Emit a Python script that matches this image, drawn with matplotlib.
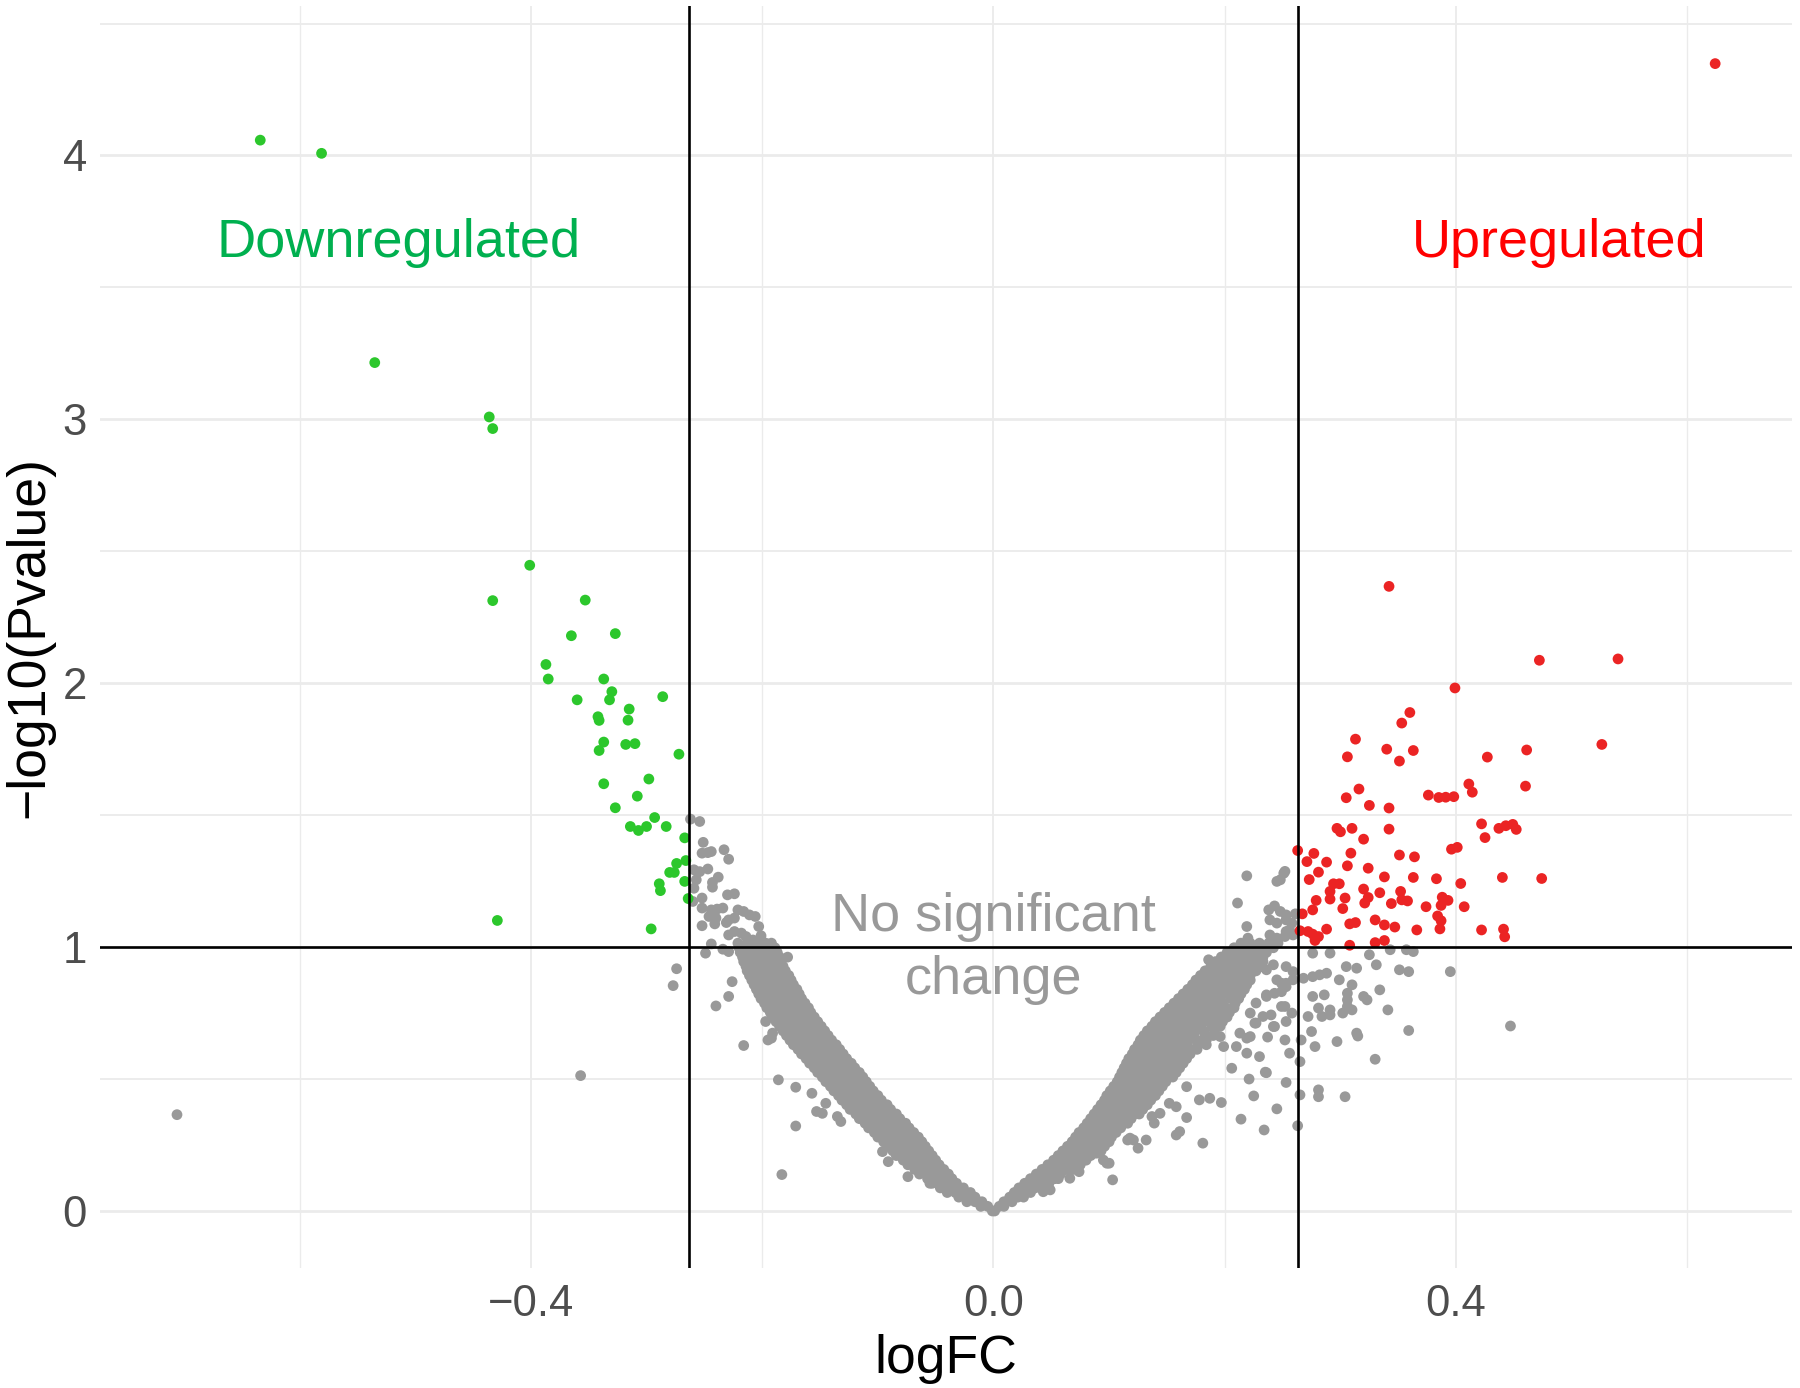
import numpy as np
import matplotlib
matplotlib.use('Agg')
import matplotlib.pyplot as plt

plt.rcParams['font.family'] = ['Liberation Sans', 'DejaVu Sans']

fc_cut = 0.263
p_cut = 1.0

# significant down (green)
down_x = [-0.634, -0.581, -0.535, -0.436, -0.433, -0.401, -0.433, -0.353, -0.365, -0.327,
          -0.387, -0.385, -0.337, -0.330, -0.332, -0.360, -0.286, -0.315, -0.342, -0.341,
          -0.316, -0.337, -0.341, -0.318, -0.310, -0.272, -0.337, -0.298, -0.308, -0.327,
          -0.293, -0.314, -0.307, -0.300, -0.283, -0.267, -0.266, -0.274, -0.280, -0.276,
          -0.267, -0.289, -0.288, -0.264, -0.429, -0.296]
down_y = [4.058, 4.008, 3.215, 3.009, 2.965, 2.447, 2.313, 2.315, 2.180, 2.188,
          2.071, 2.016, 2.016, 1.968, 1.937, 1.937, 1.949, 1.902, 1.873, 1.859,
          1.860, 1.777, 1.745, 1.768, 1.771, 1.731, 1.619, 1.637, 1.572, 1.528,
          1.491, 1.457, 1.442, 1.457, 1.457, 1.414, 1.328, 1.317, 1.283, 1.283,
          1.249, 1.240, 1.214, 1.184, 1.101, 1.069]

# significant up (red)
up_x = [0.624, 0.342, 0.472, 0.540, 0.399, 0.360, 0.353, 0.313, 0.340, 0.363,
        0.306, 0.351, 0.427, 0.461, 0.526, 0.460, 0.411, 0.414, 0.316, 0.305,
        0.325, 0.342, 0.376, 0.385, 0.391, 0.398, 0.297, 0.300, 0.310, 0.320,
        0.342, 0.422, 0.425, 0.437, 0.443, 0.449, 0.452, 0.396, 0.401, 0.263,
        0.277, 0.271, 0.288, 0.309, 0.306, 0.324, 0.351, 0.364, 0.281, 0.273,
        0.338, 0.363, 0.383, 0.404, 0.440, 0.474, 0.294, 0.299, 0.291, 0.320,
        0.334, 0.352, 0.279, 0.291, 0.304, 0.324, 0.321, 0.344, 0.353, 0.358,
        0.388, 0.393, 0.387, 0.374, 0.407, 0.276, 0.302, 0.267, 0.384, 0.387,
        0.308, 0.313, 0.330, 0.338, 0.347, 0.288, 0.265, 0.272, 0.276, 0.281,
        0.278, 0.366, 0.386, 0.422, 0.441, 0.442, 0.308, 0.330, 0.338]
up_y = [4.348, 2.367, 2.087, 2.092, 1.982, 1.889, 1.849, 1.788, 1.750, 1.745,
        1.721, 1.705, 1.720, 1.747, 1.768, 1.610, 1.618, 1.587, 1.599, 1.566,
        1.537, 1.527, 1.576, 1.567, 1.568, 1.570, 1.450, 1.437, 1.450, 1.409,
        1.447, 1.467, 1.415, 1.450, 1.460, 1.465, 1.446, 1.371, 1.378, 1.366,
        1.355, 1.324, 1.322, 1.356, 1.308, 1.299, 1.349, 1.342, 1.284, 1.256,
        1.266, 1.264, 1.259, 1.241, 1.264, 1.260, 1.240, 1.240, 1.211, 1.220,
        1.206, 1.211, 1.177, 1.182, 1.186, 1.188, 1.167, 1.165, 1.179, 1.175,
        1.189, 1.177, 1.158, 1.153, 1.153, 1.141, 1.146, 1.126, 1.118, 1.100,
        1.088, 1.093, 1.103, 1.084, 1.076, 1.068, 1.062, 1.059, 1.049, 1.040,
        1.025, 1.065, 1.069, 1.065, 1.068, 1.039, 1.007, 1.017, 1.025]

# not significant, scattered ones
ns_x = [-0.706, -0.357, -0.274, -0.277, -0.183, -0.096,
        -0.262, -0.254, -0.251, -0.252, -0.247, -0.244, -0.233, -0.229,
        -0.259, -0.254, -0.247, -0.238, -0.243, -0.243, -0.257, -0.259,
        -0.230, -0.224, -0.252, -0.260, -0.252, -0.244, -0.239, -0.234,
        -0.221, -0.216, -0.211, -0.206, -0.246, -0.240, -0.229, -0.224,
        -0.252, -0.241, -0.231, -0.203, -0.201, -0.229, -0.224, -0.218,
        -0.214, -0.208, -0.204, -0.200, -0.244, -0.249, -0.234, -0.229,
        -0.226, -0.229, -0.240, -0.216, -0.197, -0.192, -0.178, -0.195, -0.191,
        -0.186, -0.171, -0.171, -0.153, -0.148, -0.145, -0.135, -0.132, -0.157, -0.091, -0.074, -0.055,
        0.219, 0.245, 0.252, 0.211, 0.238, 0.243, 0.248, 0.261, 0.219,
        0.239, 0.245, 0.253, 0.256, 0.220, 0.239, 0.245, 0.252, 0.259,
        0.253, 0.258, 0.253, 0.251, 0.248,
        0.276, 0.291, 0.325, 0.343, 0.357, 0.363, 0.305, 0.314, 0.331, 0.351, 0.359, 0.395,
        0.276, 0.282, 0.268, 0.288, 0.299, 0.310, 0.276, 0.286, 0.306, 0.306, 0.306, 0.320, 0.323, 0.334,
        0.341, 0.272, 0.281, 0.291, 0.302, 0.310, 0.284, 0.291, 0.275, 0.266, 0.278, 0.297, 0.314, 0.315,
        0.359, 0.330, 0.265, 0.265, 0.281, 0.281, 0.304, 0.263, 0.447,
        0.256, 0.253, 0.245, 0.234, 0.214, 0.225, 0.221, 0.235, 0.252, 0.237, 0.242, 0.197, 0.187,
        0.167, 0.181, 0.161, 0.158, 0.132, 0.125, 0.116, 0.103, 0.100, 0.095, 0.083, 0.089, 0.066, 0.074, 0.043, 0.049,
        0.219, 0.230, 0.210, 0.206, 0.227, 0.227, 0.240, 0.252, 0.253, 0.258, 0.236, 0.243, 0.249,
        0.222, 0.222, 0.232, 0.242, 0.253, 0.259, 0.245, 0.253, 0.259,
        0.186, 0.209, 0.219, 0.230, 0.236, 0.249, 0.236, 0.253, 0.249, 0.233, 0.243, 0.226, 0.213, 0.219, 0.199, 0.196, 0.236,
        0.178, 0.152, 0.158, 0.167, 0.144, 0.137, 0.139, 0.118, 0.121, 0.098]
ns_y = [0.365, 0.513, 0.918, 0.854, 0.138, 0.225,
        1.485, 1.476, 1.397, 1.356, 1.358, 1.362, 1.369, 1.333,
        1.293, 1.286, 1.296, 1.265, 1.245, 1.227, 1.255, 1.223,
        1.198, 1.202, 1.186, 1.173, 1.148, 1.141, 1.144, 1.148,
        1.141, 1.135, 1.122, 1.116, 1.116, 1.110, 1.103, 1.110,
        1.081, 1.088, 1.093, 1.078, 1.043, 1.046, 1.059, 1.053,
        1.040, 1.027, 1.015, 1.021, 1.012, 0.977, 0.992, 0.983,
        0.869, 0.813, 0.777, 0.627, 0.718, 0.655, 0.962, 0.648, 0.674,
        0.497, 0.469, 0.322, 0.377, 0.370, 0.408, 0.358, 0.339, 0.446, 0.187, 0.130, 0.105,
        1.270, 1.249, 1.287, 1.167, 1.141, 1.156, 1.135, 1.126, 1.078,
        1.103, 1.091, 1.103, 1.065, 1.034, 1.046, 1.034, 1.040, 1.046,
        1.122, 1.091, 1.059, 1.280, 1.255,
        0.977, 0.977, 0.971, 0.990, 0.990, 0.983, 0.926, 0.920, 0.933, 0.914, 0.907, 0.907,
        0.888, 0.895, 0.882, 0.901, 0.876, 0.857, 0.813, 0.819, 0.825, 0.800, 0.775, 0.813, 0.800, 0.838,
        0.762, 0.737, 0.769, 0.762, 0.750, 0.762, 0.737, 0.743, 0.680, 0.648, 0.623, 0.642, 0.674, 0.663,
        0.684, 0.575, 0.566, 0.440, 0.459, 0.433, 0.433, 0.323, 0.701,
        0.598, 0.487, 0.387, 0.307, 0.348, 0.436, 0.500, 0.526, 0.648, 0.659, 0.699, 0.411, 0.427,
        0.354, 0.257, 0.301, 0.288, 0.269, 0.238, 0.269, 0.118, 0.181, 0.193, 0.212, 0.219, 0.124, 0.149, 0.073, 0.080,
        0.598, 0.585, 0.623, 0.541, 0.788, 0.712, 0.743, 0.775, 0.718, 0.750, 0.819, 0.825, 0.831,
        0.661, 0.750, 0.926, 0.933, 0.926, 0.907, 0.876, 0.863, 0.876,
        0.952, 0.952, 0.907, 0.945, 0.914, 0.863, 0.813, 0.850, 0.775, 0.737, 0.699, 0.712, 0.674, 0.655, 0.623, 0.661, 0.524,
        0.421, 0.408, 0.395, 0.471, 0.370, 0.358, 0.333, 0.276, 0.269, 0.181]

# dense V of non-significant genes, read row by row
band_rows_y = [0.000, 0.035, 0.070, 0.105, 0.140, 0.175, 0.210, 0.245, 0.280, 0.315,
               0.350, 0.385, 0.420, 0.455, 0.490, 0.525, 0.560, 0.595, 0.630, 0.665,
               0.700, 0.735, 0.770, 0.805, 0.840, 0.875, 0.910, 0.945, 0.980, 1.015]
mid_rows_y = [0.0175, 0.0525, 0.0875, 0.1225, 0.1575, 0.1925, 0.2275, 0.2625, 0.2975, 0.3325,
              0.3675, 0.4025, 0.4375, 0.4725, 0.5075, 0.5425, 0.5775, 0.6125, 0.6475, 0.6825,
              0.7175, 0.7525, 0.7875, 0.8225, 0.8575, 0.8925, 0.9275, 0.9625, 0.9975]
left_rows_x = [
    [-0.001],
    [-0.023, -0.016, -0.010],
    [-0.040, -0.033, -0.026, -0.020],
    [-0.053, -0.046, -0.039, -0.032],
    [-0.064, -0.057, -0.050, -0.043, -0.039],
    [-0.074, -0.067, -0.060, -0.053, -0.047],
    [-0.084, -0.077, -0.070, -0.063, -0.056, -0.053],
    [-0.092, -0.085, -0.078, -0.071, -0.064, -0.059],
    [-0.100, -0.093, -0.086, -0.079, -0.072, -0.065],
    [-0.108, -0.101, -0.094, -0.087, -0.080, -0.073],
    [-0.116, -0.109, -0.102, -0.095, -0.088, -0.081],
    [-0.124, -0.117, -0.110, -0.103, -0.096, -0.089],
    [-0.131, -0.124, -0.117, -0.110, -0.103, -0.097],
    [-0.138, -0.131, -0.124, -0.117, -0.110, -0.104],
    [-0.145, -0.138, -0.131, -0.124, -0.117, -0.110],
    [-0.152, -0.145, -0.138, -0.131, -0.124, -0.116],
    [-0.159, -0.152, -0.145, -0.138, -0.131, -0.123],
    [-0.166, -0.159, -0.152, -0.145, -0.138, -0.130],
    [-0.173, -0.166, -0.159, -0.152, -0.145, -0.136],
    [-0.179, -0.172, -0.165, -0.158, -0.151, -0.143],
    [-0.185, -0.178, -0.171, -0.164, -0.157, -0.149],
    [-0.191, -0.184, -0.177, -0.170, -0.163, -0.155],
    [-0.196, -0.189, -0.182, -0.175, -0.168, -0.160],
    [-0.201, -0.194, -0.187, -0.180, -0.173, -0.166],
    [-0.205, -0.198, -0.191, -0.184, -0.177, -0.170],
    [-0.209, -0.202, -0.195, -0.188, -0.181, -0.175],
    [-0.213, -0.206, -0.199, -0.192, -0.185, -0.180],
    [-0.216, -0.209, -0.202, -0.195, -0.188, -0.184],
    [-0.219, -0.212, -0.205, -0.198, -0.191, -0.187],
    [-0.221, -0.213, -0.205, -0.197, -0.192],
]
left_mid_x = [
    [-0.011, -0.005],
    [-0.030, -0.023, -0.016],
    [-0.046, -0.039, -0.032, -0.026],
    [-0.057, -0.050, -0.043, -0.036],
    [-0.068, -0.061, -0.054, -0.047, -0.043],
    [-0.078, -0.071, -0.064, -0.057, -0.050],
    [-0.087, -0.080, -0.073, -0.066, -0.059, -0.056],
    [-0.095, -0.088, -0.081, -0.074, -0.067, -0.062],
    [-0.103, -0.096, -0.089, -0.082, -0.075, -0.069],
    [-0.111, -0.104, -0.097, -0.090, -0.083, -0.076],
    [-0.119, -0.112, -0.105, -0.098, -0.091, -0.084],
    [-0.127, -0.120, -0.113, -0.106, -0.099, -0.092],
    [-0.134, -0.127, -0.120, -0.113, -0.106, -0.100],
    [-0.141, -0.134, -0.127, -0.120, -0.113, -0.107],
    [-0.148, -0.141, -0.134, -0.127, -0.120, -0.113],
    [-0.155, -0.148, -0.141, -0.134, -0.127, -0.120],
    [-0.162, -0.155, -0.148, -0.141, -0.134, -0.127],
    [-0.169, -0.162, -0.155, -0.148, -0.141, -0.133],
    [-0.176, -0.169, -0.162, -0.155, -0.148, -0.140],
    [-0.182, -0.175, -0.168, -0.161, -0.154, -0.146],
    [-0.188, -0.181, -0.174, -0.167, -0.160, -0.152],
    [-0.193, -0.186, -0.179, -0.172, -0.165, -0.158],
    [-0.198, -0.191, -0.184, -0.177, -0.170, -0.163],
    [-0.203, -0.196, -0.189, -0.182, -0.175, -0.168],
    [-0.207, -0.200, -0.193, -0.186, -0.179, -0.173],
    [-0.211, -0.204, -0.197, -0.190, -0.183, -0.177],
    [-0.214, -0.207, -0.200, -0.193, -0.186, -0.182],
    [-0.217, -0.210, -0.203, -0.196, -0.189, -0.185],
    [-0.220, -0.213, -0.206, -0.199, -0.192, -0.189],
]
right_rows_x = [
    [0.001],
    [0.009, 0.016],
    [0.018, 0.025, 0.032],
    [0.027, 0.034, 0.041, 0.048],
    [0.037, 0.044, 0.051, 0.058],
    [0.047, 0.054, 0.061, 0.068, 0.075],
    [0.056, 0.063, 0.070, 0.077, 0.084],
    [0.064, 0.071, 0.078, 0.085, 0.092, 0.096],
    [0.071, 0.078, 0.085, 0.092, 0.099, 0.102],
    [0.078, 0.085, 0.092, 0.099, 0.106, 0.110],
    [0.084, 0.091, 0.098, 0.105, 0.112, 0.119],
    [0.090, 0.097, 0.104, 0.111, 0.118, 0.125, 0.129],
    [0.096, 0.103, 0.110, 0.117, 0.124, 0.131, 0.136],
    [0.101, 0.108, 0.115, 0.122, 0.129, 0.136, 0.143],
    [0.107, 0.114, 0.121, 0.128, 0.135, 0.142, 0.149],
    [0.111, 0.118, 0.125, 0.132, 0.139, 0.146, 0.153, 0.158],
    [0.115, 0.122, 0.129, 0.136, 0.143, 0.150, 0.157, 0.164],
    [0.120, 0.127, 0.134, 0.141, 0.148, 0.155, 0.162, 0.170],
    [0.125, 0.132, 0.139, 0.146, 0.153, 0.160, 0.167, 0.177, 0.184],
    [0.130, 0.137, 0.144, 0.151, 0.158, 0.165, 0.172, 0.183, 0.190],
    [0.137, 0.144, 0.151, 0.158, 0.165, 0.172, 0.179, 0.189, 0.196],
    [0.144, 0.151, 0.158, 0.165, 0.172, 0.179, 0.186, 0.195, 0.202],
    [0.152, 0.159, 0.166, 0.173, 0.180, 0.187, 0.194, 0.201, 0.208],
    [0.160, 0.167, 0.174, 0.181, 0.188, 0.195, 0.205, 0.212],
    [0.168, 0.175, 0.182, 0.189, 0.196, 0.203, 0.210, 0.217],
    [0.175, 0.182, 0.189, 0.196, 0.203, 0.210, 0.217, 0.222],
    [0.183, 0.190, 0.197, 0.204, 0.211, 0.218, 0.222, 0.227],
    [0.192, 0.199, 0.206, 0.213, 0.220, 0.228, 0.233],
    [0.202, 0.209, 0.216, 0.223, 0.230, 0.236],
    [0.214, 0.222, 0.230, 0.238, 0.246],
]
right_mid_x = [
    [0.005, 0.009],
    [0.014, 0.021, 0.026],
    [0.022, 0.029, 0.036, 0.042],
    [0.032, 0.039, 0.046, 0.053, 0.056],
    [0.042, 0.049, 0.056, 0.063, 0.069],
    [0.052, 0.059, 0.066, 0.073, 0.080],
    [0.060, 0.067, 0.074, 0.081, 0.088, 0.093],
    [0.068, 0.075, 0.082, 0.089, 0.096, 0.100],
    [0.074, 0.081, 0.088, 0.095, 0.102, 0.106],
    [0.081, 0.088, 0.095, 0.102, 0.109, 0.116],
    [0.087, 0.094, 0.101, 0.108, 0.115, 0.122, 0.126],
    [0.093, 0.100, 0.107, 0.114, 0.121, 0.128, 0.133],
    [0.098, 0.105, 0.112, 0.119, 0.126, 0.133, 0.140],
    [0.104, 0.111, 0.118, 0.125, 0.132, 0.139, 0.146],
    [0.109, 0.116, 0.123, 0.130, 0.137, 0.144, 0.151, 0.155],
    [0.113, 0.120, 0.127, 0.134, 0.141, 0.148, 0.155, 0.161],
    [0.117, 0.124, 0.131, 0.138, 0.145, 0.152, 0.159, 0.167],
    [0.122, 0.129, 0.136, 0.143, 0.150, 0.157, 0.164, 0.171, 0.176],
    [0.127, 0.134, 0.141, 0.148, 0.155, 0.162, 0.169, 0.176, 0.184],
    [0.133, 0.140, 0.147, 0.154, 0.161, 0.168, 0.175, 0.182, 0.191],
    [0.140, 0.147, 0.154, 0.161, 0.168, 0.175, 0.182, 0.189, 0.198],
    [0.148, 0.155, 0.162, 0.169, 0.176, 0.183, 0.190, 0.197, 0.204],
    [0.156, 0.163, 0.170, 0.177, 0.184, 0.191, 0.198, 0.209],
    [0.164, 0.171, 0.178, 0.185, 0.192, 0.199, 0.206, 0.214],
    [0.172, 0.179, 0.186, 0.193, 0.200, 0.207, 0.214, 0.219],
    [0.179, 0.186, 0.193, 0.200, 0.207, 0.214, 0.222],
    [0.188, 0.195, 0.202, 0.209, 0.216, 0.223, 0.229],
    [0.197, 0.204, 0.211, 0.218, 0.225, 0.233],
    [0.208, 0.215, 0.222, 0.229, 0.236, 0.242],
]

band_x, band_y = [], []
for rows_y, rows_x in ((band_rows_y, left_rows_x), (mid_rows_y, left_mid_x),
                       (band_rows_y, right_rows_x), (mid_rows_y, right_mid_x)):
    for yy, xs in zip(rows_y, rows_x):
        band_x += xs
        band_y += [yy] * len(xs)

gray_x = np.array(band_x + ns_x)
gray_y = np.array(band_y + ns_y)

fig = plt.figure(figsize=(18, 13.88), dpi=100)
ax = fig.add_axes([0.0556, 0.0862, 0.9400, 0.9093])

pt_size = 60
ax.scatter(gray_x, gray_y, s=pt_size, c='#999999', edgecolors='none', zorder=2)
ax.scatter(down_x, down_y, s=pt_size, c='#2CC72C', edgecolors='none', zorder=3)
ax.scatter(up_x, up_y, s=pt_size, c='#EB2424', edgecolors='none', zorder=3)

ax.axvline(-fc_cut, color='black', lw=1.9, zorder=4)
ax.axvline(fc_cut, color='black', lw=1.9, zorder=4)
ax.axhline(p_cut, color='black', lw=1.9, zorder=4)

all_x = np.concatenate([gray_x, down_x, up_x])
all_y = np.concatenate([gray_y, down_y, up_y])
xr = all_x.max() - all_x.min()
yr = all_y.max() - all_y.min()
ax.set_xlim(all_x.min() - 0.05 * xr, all_x.max() + 0.05 * xr)
ax.set_ylim(all_y.min() - 0.05 * yr, all_y.max() + 0.05 * yr)

ax.set_xticks([-0.4, 0.0, 0.4])
ax.set_xticklabels(['\u22120.4', '0.0', '0.4'])
ax.set_xticks([-0.6, -0.2, 0.2, 0.6], minor=True)
ax.set_yticks([0, 1, 2, 3, 4])
ax.set_yticklabels(['0', '1', '2', '3', '4'])
ax.set_yticks([0.5, 1.5, 2.5, 3.5, 4.5], minor=True)

ax.set_axisbelow(True)
ax.grid(which='major', axis='y', color='#EBEBEB', lw=2.0)
ax.grid(which='minor', axis='y', color='#EBEBEB', lw=1.3)
ax.grid(which='major', axis='x', color='#EBEBEB', lw=1.3)
ax.grid(which='minor', axis='x', color='#EBEBEB', lw=1.0)
for sp in ax.spines.values():
    sp.set_visible(False)
ax.tick_params(which='both', length=0, labelsize=31.5, labelcolor='#4D4D4D')
ax.tick_params(axis='y', pad=9.5)
ax.tick_params(axis='x', pad=11)

ax.set_xlabel('logFC', fontsize=38.5, color='black', labelpad=7)
ax.set_ylabel('\u2212log10(Pvalue)', fontsize=38.5, color='black', labelpad=6)

ax.text(-0.514, 3.67, 'Downregulated', color='#00B04F', fontsize=39,
        ha='center', va='center', zorder=5)
ax.text(0.489, 3.67, 'Upregulated', color='#FF0000', fontsize=39,
        ha='center', va='center', zorder=5)
ax.text(0.0, 0.995, 'No significant\nchange', color='#999999', fontsize=39,
        ha='center', va='center', linespacing=1.35, zorder=5)

fig.savefig('out.png', dpi=100)
